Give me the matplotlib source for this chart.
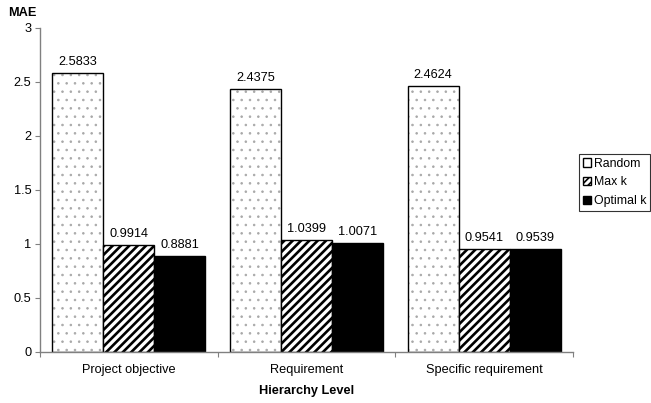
import matplotlib.pyplot as plt
from matplotlib.patches import Patch
import numpy as np

plt.rcParams['font.family'] = ['Liberation Sans', 'DejaVu Sans']
plt.rcParams['font.size'] = 9.2

levels = ["Project objective", "Requirement", "Specific requirement"]
series = ["Random", "Max k", "Optimal k"]
random_mae = [2.5833, 2.4375, 2.4624]
maxk_mae = [0.9914, 1.0399, 0.9541]
optimal_mae = [0.8881, 1.0071, 0.9539]
yticks = [0, 0.5, 1, 1.5, 2, 2.5, 3]

fig = plt.figure(figsize=(6.51, 4.03), dpi=100)
ax = fig.add_axes([40 / 651, 1 - 352 / 403, 533 / 651, 324 / 403])

x = np.arange(len(levels))
w = 0.287
offsets = [-w, 0, w]

# dotted fill for Random: light grey dots, black outline drawn on top
plt.rcParams['hatch.linewidth'] = 0.6
ax.bar(x + offsets[0], random_mae, w, color="white", edgecolor="#a8a8a8",
       hatch="..", linewidth=0)
ax.bar(x + offsets[0], random_mae, w, fill=False, edgecolor="black", linewidth=1.0)

plt.rcParams['hatch.linewidth'] = 1.9
ax.bar(x + offsets[1], maxk_mae, w, color="white", edgecolor="black",
       hatch="////", linewidth=1.0)
ax.bar(x + offsets[2], optimal_mae, w, color="black", edgecolor="black", linewidth=1.0)

for vals, off in zip([random_mae, maxk_mae, optimal_mae], offsets):
    for xi, v in zip(x, vals):
        ax.text(xi + off, v + 0.045, f"{v:.4f}".rstrip("0"), ha="center", va="bottom")

ax.set_xlim(-0.5, 2.5)
ax.set_ylim(0, 3)
ax.set_yticks(yticks)
ax.set_yticklabels([f"{t:g}" for t in yticks])
ax.set_xticks([-0.5, 0.5, 1.5, 2.5])
ax.set_xticklabels([])
ax.set_xticks(x, minor=True)
ax.set_xticklabels(levels, minor=True)
ax.tick_params(axis="x", which="minor", length=0, pad=9)
ax.tick_params(axis="x", which="major", length=3.6, direction="out")
ax.tick_params(axis="y", length=3.6, direction="out", pad=2.5)
for s in ["top", "right"]:
    ax.spines[s].set_visible(False)
for s in ["left", "bottom"]:
    ax.spines[s].set_color("#808080")
    ax.spines[s].set_linewidth(1.0)
ax.tick_params(which="both", colors="#808080", labelcolor="black")

fig.text(8 / 651, 1 - 12.5 / 403, "MAE", fontweight="bold", va="center")
ax.set_xlabel("Hierarchy Level", fontweight="bold", labelpad=6)

plt.rcParams['hatch.linewidth'] = 1.2
handles = [Patch(facecolor="white", edgecolor="black"),
           Patch(facecolor="white", edgecolor="black", hatch="/////"),
           Patch(facecolor="black", edgecolor="black")]
leg = fig.legend(handles, series, loc="upper left", bbox_to_anchor=(579 / 651, 1 - 154 / 403),
                 borderaxespad=0, frameon=True, fancybox=False, edgecolor="black",
                 handlelength=0.7, handleheight=0.7, handletextpad=0.2,
                 borderpad=0.3, labelspacing=0.55, fontsize=8.8)
leg.get_frame().set_linewidth(0.8)

fig.savefig("out.png", dpi=100)
